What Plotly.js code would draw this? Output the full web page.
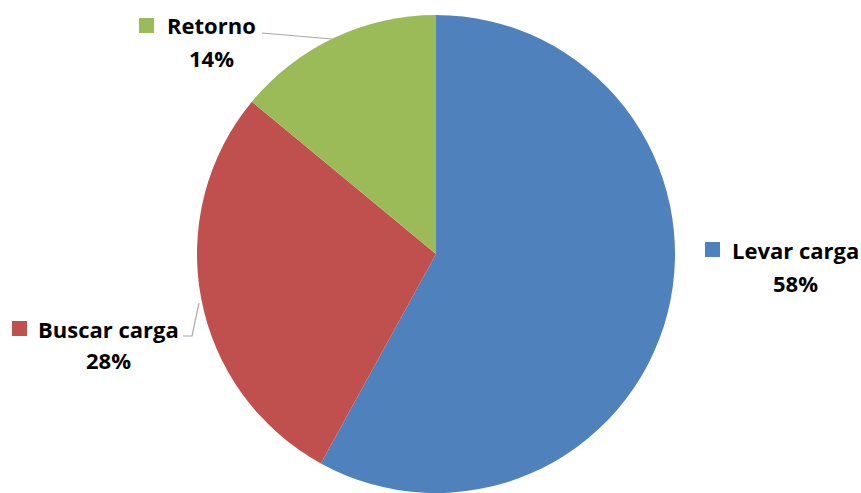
<!DOCTYPE html>
<html>
<head>
<meta charset="utf-8">
<script src="https://cdn.plot.ly/plotly-3.0.1.min.js"></script>
<style>html,body{margin:0;padding:0;background:#fff;}#chart{width:861px;height:493px;}</style>
</head>
<body>
<div id="chart"></div>
<script>
const labels = ["Levar carga", "Buscar carga", "Retorno"];
const values = [58, 28, 14];
const colors = ["#4F81BD", "#C0504D", "#9BBB59"];

const W = 861, H = 493;
const px = x => x / W;
const py = y => 1 - y / H;

const total = values.reduce((a, b) => a + b, 0);
const pct = values.map(v => Math.round(100 * v / total) + "%");

// label placement (pixel centres) for each slice, in order of labels
const labelPos = [
  {name: [795, 250], pct: [795, 283], key: [705, 242]},
  {name: [109, 329], pct: [109, 360], key: [12, 321]},
  {name: [211, 25],  pct: [211, 58],  key: [139, 18]}
];

const font = {family: "'Open Sans', sans-serif", size: 22, color: "#000"};
const annotations = [];
const shapes = [];
labels.forEach((lab, i) => {
  const p = labelPos[i];
  annotations.push({xref: "paper", yref: "paper", x: px(p.name[0]), y: py(p.name[1]),
    xanchor: "center", yanchor: "middle", showarrow: false, text: "<b>" + lab + "</b>", font: font});
  annotations.push({xref: "paper", yref: "paper", x: px(p.pct[0]), y: py(p.pct[1]),
    xanchor: "center", yanchor: "middle", showarrow: false, text: "<b>" + pct[i] + "</b>", font: font});
  shapes.push({type: "rect", xref: "paper", yref: "paper",
    x0: px(p.key[0]), x1: px(p.key[0] + 15), y0: py(p.key[1]), y1: py(p.key[1] + 15),
    fillcolor: colors[i], line: {width: 0}});
});

// leader lines
const lineStyle = {color: "#A6A6A6", width: 1.2};
shapes.push({type: "line", xref: "paper", yref: "paper", x0: px(262), y0: py(33), x1: px(332), y1: py(39), line: lineStyle});
shapes.push({type: "path", xref: "paper", yref: "paper",
  path: `M ${px(183)} ${py(336)} L ${px(192)} ${py(336)} L ${px(199)} ${py(303)}`, line: lineStyle});

const data = [{
  type: "pie",
  labels: labels,
  values: values,
  sort: false,
  direction: "clockwise",
  rotation: 0,
  marker: {colors: colors, line: {width: 0}},
  textinfo: "none",
  hoverinfo: "none",
  domain: {x: [197 / W, 675 / W], y: [0, 478 / H]}
}];

const layout = {
  width: W, height: H,
  margin: {l: 0, r: 0, t: 0, b: 0},
  paper_bgcolor: "#fff",
  showlegend: false,
  annotations: annotations,
  shapes: shapes
};

Plotly.newPlot("chart", data, layout, {displayModeBar: false, staticPlot: true});
</script>
</body>
</html>
